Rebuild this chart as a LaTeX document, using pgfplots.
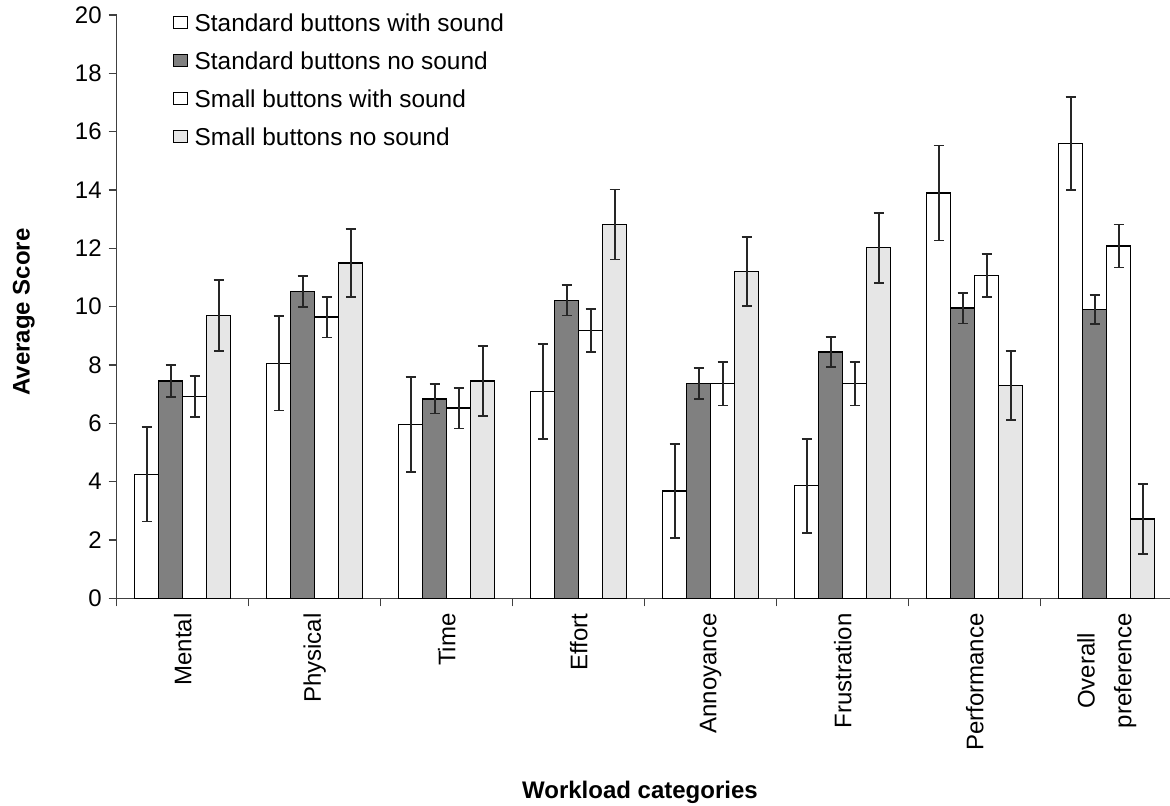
\documentclass[border=0pt]{standalone}
\usepackage{pgfplots}
\pgfplotsset{compat=1.18}
\usepackage{pgfplotstable}
\usepackage{fontspec}
\setmainfont{Liberation Sans}

\pgfplotstableread{
x s1 e1 s2 e2 s3 e3 s4 e4
0 4.25 1.62 7.45 0.55 6.92 0.70 9.70 1.22
1 8.06 1.62 10.52 0.52 9.64 0.70 11.50 1.16
2 5.96 1.63 6.84 0.50 6.52 0.70 7.45 1.21
3 7.10 1.63 10.22 0.52 9.18 0.74 12.82 1.20
4 3.68 1.62 7.36 0.53 7.36 0.75 11.20 1.18
5 3.86 1.61 8.45 0.52 7.36 0.75 12.02 1.20
6 13.90 1.63 9.95 0.53 11.06 0.74 7.30 1.19
7 15.60 1.60 9.90 0.50 12.08 0.74 2.72 1.20
}\data

\definecolor{dgray}{HTML}{808080}
\definecolor{lgray}{HTML}{E6E6E6}

\begin{document}
\begin{tikzpicture}
\clip (-58.35pt,-103.35pt) rectangle (526.65pt,299.15pt);
\begin{axis}[
  at={(0,0)}, anchor=south west,
  scale only axis, width=528pt, height=291.65pt,
  xmin=-0.5, xmax=7.5, ymin=0, ymax=20,
  ybar=0pt, bar width=12pt,
  axis x line*=bottom, axis y line*=left,
  axis line style={black!75, line width=0.6pt, -},
  tick align=outside,
  major tick length=4pt, minor tick length=4pt,
  ytick={0,2,...,20},
  xtick={0,...,7},
  xticklabels={Mental,Physical,Time,Effort,Annoyance,Frustration,Performance,{Overall\\preference}},
  minor xtick={-0.5,0.5,...,7.5},
  major x tick style={draw=none},
  minor x tick style={draw=black!75, line width=0.6pt},
  y tick style={draw=black!75, line width=0.6pt},
  /pgf/number format/assume math mode=true,
  tick label style={font=\fontsize{12}{18.35}\selectfont},
  xticklabel style={rotate=90, anchor=east, align=center},
  xlabel={\textbf{Workload categories}},
  ylabel={\textbf{Average Score}},
  label style={font=\fontsize{12}{14}\selectfont},
  xlabel style={at={(axis description cs:0.4955,-0.332)}, anchor=center},
  ylabel style={at={(axis description cs:-0.088,0.491)}, anchor=center},
  legend style={draw=none, fill=none, inner sep=0pt, outer sep=0pt,
    at={(axis description cs:0.053,1.002)}, anchor=north west,
    font=\fontsize{12.2}{14}\selectfont, row sep=7.5pt, column sep=3.5pt,
    nodes={inner sep=0pt, outer sep=0pt, text height=9pt, text depth=2.5pt}},
  legend cell align=left,
  legend image code/.code={\draw[#1, line width=0.5pt] (0pt,-1.35pt) rectangle (7pt,4.65pt);},
  error bars/y dir=both, error bars/y explicit,
  error bars/error bar style={line width=0.85pt, black!85},
  error bars/error mark options={rotate=90, mark size=2.5pt, line width=0.85pt, black!85},
]
\addplot[draw=black, fill=white, line width=0.7pt] table[x=x, y=s1, y error=e1] {\data};
\addplot[draw=black, fill=dgray, line width=0.7pt] table[x=x, y=s2, y error=e2] {\data};
\addplot[draw=black, fill=white, line width=0.7pt] table[x=x, y=s3, y error=e3] {\data};
\addplot[draw=black, fill=lgray, line width=0.7pt] table[x=x, y=s4, y error=e4] {\data};
\legend{Standard buttons with sound, Standard buttons no sound, Small buttons with sound, Small buttons no sound}
\end{axis}
\end{tikzpicture}
\end{document}
